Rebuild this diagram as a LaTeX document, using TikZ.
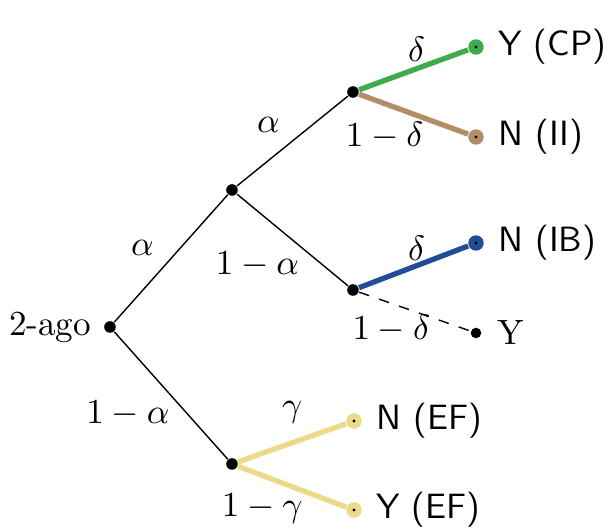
\documentclass[tikz,border=0pt]{standalone}
\usetikzlibrary{positioning}
\definecolor{moss}{RGB}{64,170,78}
\definecolor{clay}{RGB}{178,142,102}
\definecolor{navy}{RGB}{32,78,148}
\definecolor{straw}{RGB}{234,218,138}
\tikzset{
  fork/.style={circle,fill=black,inner sep=0pt,minimum size=3.3pt},
  leaf/.style={circle,fill=#1,inner sep=0pt,minimum size=4.4pt,
    path picture={\fill[black] (path picture bounding box.center) circle (0.45pt);}},
  leaf/.default=moss,
  branch/.style={draw=#1,line width=1.5pt},
  branch/.default=moss,
  prob/.style={inner sep=0pt},
  outcome/.style={font=\sffamily},
}

\begin{document}
\begin{tikzpicture}
  \useasboundingbox (-1.10,-2.04) rectangle (4.98,3.27);
  % forks
  \node[fork] (r) at (0,0) {};
  \node[fork] (a) at (1.22,1.37) {};
  \node[fork] (b) at (1.22,-1.37) {};
  \node[fork] (aa) at (2.43,2.35) {};
  \node[fork] (ab) at (2.43,0.37) {};
  % leaves
  \node[leaf=moss] (cp) at (3.66,2.80) {};
  \node[leaf=clay] (ii) at (3.66,1.90) {};
  \node[leaf=navy] (ib) at (3.66,0.84) {};
  \node[fork,minimum size=3pt] (yy) at (3.66,-0.06) {};
  \node[leaf=straw] (nef) at (2.44,-0.94) {};
  \node[leaf=straw] (yef) at (2.44,-1.83) {};
  % texts
  \node[left=0pt of r] (tr) {2-ago};
  \node[outcome,right=0.2mm of cp] (tcp) {Y (CP)};
  \node[outcome,right=0.2mm of ii] (tii) {N (II)};
  \node[outcome,right=0.2mm of ib] (tib) {N (IB)};
  \node[right=0.3mm of yy] (tyy) {Y};
  \node[outcome,right=0.2mm of nef] (tnef) {N (EF)};
  \node[outcome,right=0.2mm of yef] (tyef) {Y (EF)};
  % branches
  \draw (r) -- node[prob,xshift=-2.85mm,yshift=1.1mm] {$\alpha$} (a);
  \draw (r) -- node[prob,xshift=-4.3mm,yshift=-1.8mm] {$1-\alpha$} (b);
  \draw (a) -- node[prob,xshift=-2.4mm,yshift=1.6mm] {$\alpha$} (aa);
  \draw (a) -- node[prob,xshift=-3.5mm,yshift=-2.5mm] {$1-\alpha$} (ab);
  \draw[branch=moss] (aa) -- node[prob,xshift=0.3mm,yshift=2.1mm] {$\delta$} (cp);
  \draw[branch=clay] (aa) -- node[prob,xshift=-2.9mm,yshift=-2.15mm] {$1-\delta$} (ii);
  \draw[branch=navy] (ab) -- node[prob,xshift=0.3mm,yshift=1.9mm] {$\delta$} (ib);
  \draw[dashed] (ab) -- node[prob,xshift=-2.35mm,yshift=-1.75mm] {$1-\delta$} (yy);
  \draw[branch=straw] (b) -- node[prob,yshift=3mm] {$\gamma$} (nef);
  \draw[branch=straw] (b) -- node[prob,xshift=-3mm,yshift=-2.2mm] {$1-\gamma$} (yef);
\end{tikzpicture}
\end{document}
